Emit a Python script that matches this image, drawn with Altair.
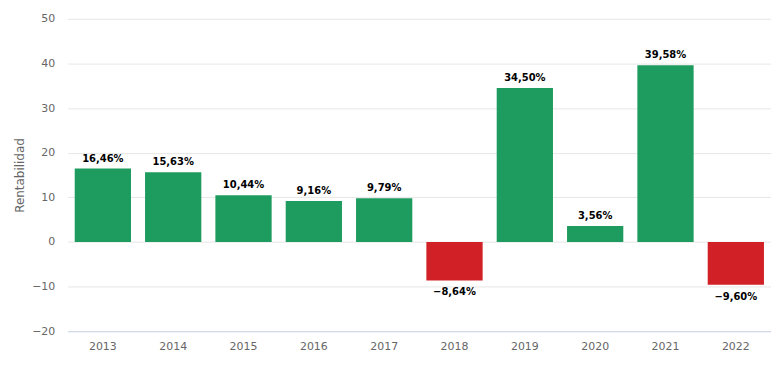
import altair as alt
import pandas as pd

years = ["2013", "2014", "2015", "2016", "2017", "2018", "2019", "2020", "2021", "2022"]
values = [16.46, 15.63, 10.44, 9.16, 9.79, -8.64, 34.50, 3.56, 39.58, -9.60]

def fmt(v):
    s = f"{abs(v):.2f}".replace(".", ",") + "%"
    return ("\u2212" + s) if v < 0 else s

df = pd.DataFrame({
    "year": years,
    "value": values,
    "label": [fmt(v) for v in values],
    "sign": ["pos" if v >= 0 else "neg" for v in values],
})

x = alt.X("year:N", title=None, sort=years,
          scale=alt.Scale(paddingInner=0.2, paddingOuter=0.1),
          axis=alt.Axis(labelAngle=0, ticks=False, domainColor="#ccd6eb",
                        labelColor="#666666", labelFontSize=11, labelPadding=9,
                        labelFont="DejaVu Sans", grid=False))
y = alt.Y("value:Q", title="Rentabilidad",
          scale=alt.Scale(domain=[-20, 50], nice=False, zero=True),
          axis=alt.Axis(values=[-20, -10, 0, 10, 20, 30, 40, 50], ticks=False,
                        domain=False, gridColor="#e6e6e6", labelColor="#666666",
                        labelFontSize=11, labelPadding=13, labelFont="DejaVu Sans",
                        titleColor="#666666", titleFontSize=12, titleFontWeight="normal",
                        titleFont="DejaVu Sans", titlePadding=5))

bars = alt.Chart(df).mark_bar().encode(
    x=x, y=y,
    color=alt.Color("sign:N", scale=alt.Scale(domain=["pos", "neg"], range=["#1e9b5e", "#d12127"]), legend=None),
)

txt_pos = alt.Chart(df).transform_filter("datum.value >= 0").mark_text(
    baseline="bottom", dy=-5, fontWeight="bold", fontSize=10, font="DejaVu Sans", color="#000000"
).encode(x=x, y=y, text="label:N")

txt_neg = alt.Chart(df).transform_filter("datum.value < 0").mark_text(
    baseline="top", dy=7, fontWeight="bold", fontSize=10, font="DejaVu Sans", color="#000000"
).encode(x=x, y=y, text="label:N")

chart = (bars + txt_pos + txt_neg).properties(
    width=707, height=314,
    autosize=alt.AutoSizeParams(type="none"),
    padding={"left": 60, "top": 10, "right": 0, "bottom": 20},
).configure_view(stroke=None)

chart.save("out.html", embed_options={"renderer": "svg", "actions": False})
